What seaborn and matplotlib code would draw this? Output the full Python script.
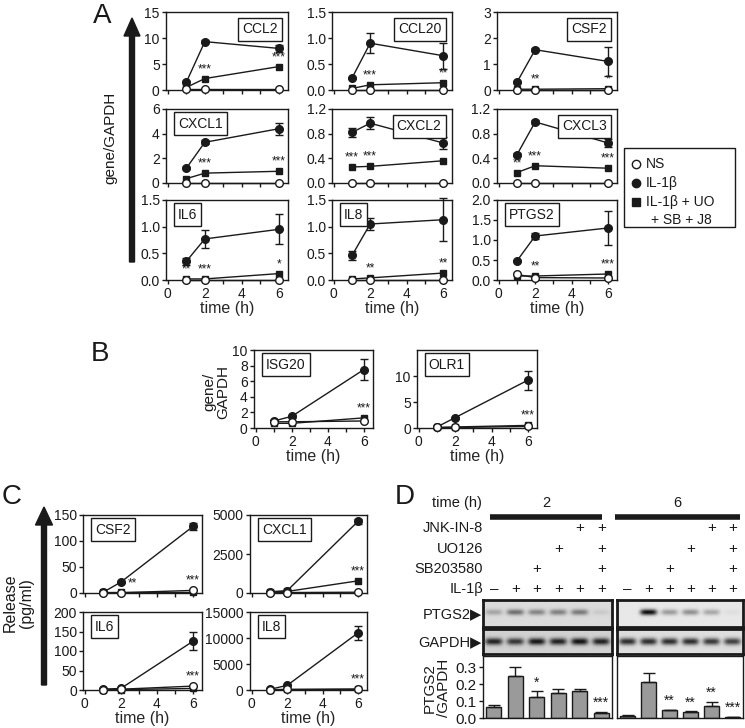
import numpy as np
import pandas as pd
import matplotlib
matplotlib.use("Agg")
import matplotlib.pyplot as plt
import seaborn as sns
from matplotlib.patches import FancyArrow, Rectangle

# ---------------------------------------------------------------- data
TIME = [1, 2, 6]
TIME_TICKS = ["0", "2", "4", "6"]

# Panel A : gene/GAPDH (NS, IL-1b mean, IL-1b error, IL-1b + UO + SB + J8, stars)
CCL2_NS = [0.1, 0.1, 0.1]; CCL2_IL1B = [1.5, 9.3, 8.0]; CCL2_ERR = [0.2, 0.3, 0.6]
CCL2_INH = [0.5, 2.2, 4.5]; CCL2_STARS = ["", "***", "***"]; CCL2_YT = ["0", "5", "10", "15"]

CCL20_NS = [0.0, 0.0, 0.0]; CCL20_IL1B = [0.23, 0.9, 0.66]; CCL20_ERR = [0.02, 0.19, 0.25]
CCL20_INH = [0.03, 0.1, 0.14]; CCL20_STARS = ["", "***", "**"]; CCL20_YT = ["0.0", "0.5", "1.0", "1.5"]

CSF2_NS = [0.0, 0.0, 0.0]; CSF2_IL1B = [0.3, 1.55, 1.1]; CSF2_ERR = [0.03, 0.05, 0.55]
CSF2_INH = [0.03, 0.03, 0.05]; CSF2_STARS = ["", "**", "*"]; CSF2_YT = ["0", "1", "2", "3"]

CXCL1_NS = [0.0, 0.0, 0.0]; CXCL1_IL1B = [1.2, 3.3, 4.4]; CXCL1_ERR = [0.1, 0.15, 0.5]
CXCL1_INH = [0.35, 0.8, 0.95]; CXCL1_STARS = ["", "***", "***"]; CXCL1_YT = ["0", "2", "4", "6"]

CXCL2_NS = [0.0, 0.0, 0.0]; CXCL2_IL1B = [0.82, 0.97, 0.65]; CXCL2_ERR = [0.07, 0.1, 0.1]
CXCL2_INH = [0.26, 0.27, 0.36]; CXCL2_STARS = ["***", "***", ""]; CXCL2_YT = ["0.0", "0.4", "0.8", "1.2"]

CXCL3_NS = [0.0, 0.0, 0.0]; CXCL3_IL1B = [0.46, 0.99, 0.65]; CXCL3_ERR = [0.02, 0.03, 0.07]
CXCL3_INH = [0.17, 0.28, 0.24]; CXCL3_STARS = ["**", "***", "***"]; CXCL3_YT = ["0.0", "0.4", "0.8", "1.2"]

IL6_NS = [0.0, 0.0, 0.0]; IL6_IL1B = [0.35, 0.77, 0.95]; IL6_ERR = [0.06, 0.17, 0.28]
IL6_INH = [0.02, 0.02, 0.12]; IL6_STARS = ["**", "***", "*"]; IL6_YT = ["0.0", "0.5", "1.0", "1.5"]

IL8_NS = [0.0, 0.0, 0.0]; IL8_IL1B = [0.46, 1.05, 1.13]; IL8_ERR = [0.09, 0.12, 0.4]
IL8_INH = [0.02, 0.04, 0.13]; IL8_STARS = ["", "**", "**"]; IL8_YT = ["0.0", "0.5", "1.0", "1.5"]

PTGS2_NS = [0.14, 0.06, 0.05]; PTGS2_IL1B = [0.48, 1.1, 1.3]; PTGS2_ERR = [0.03, 0.08, 0.42]
PTGS2_INH = [0.1, 0.1, 0.15]; PTGS2_STARS = ["", "**", "***"]; PTGS2_YT = ["0.0", "0.5", "1.0", "1.5", "2.0"]

# Panel B : gene/GAPDH
ISG20_NS = [0.8, 0.8, 0.9]; ISG20_IL1B = [0.9, 1.5, 7.5]; ISG20_ERR = [0.1, 0.2, 1.4]
ISG20_INH = [0.6, 0.6, 1.3]; ISG20_STARS = ["", "", "***"]; ISG20_YT = ["0", "2", "4", "6", "8", "10"]

OLR1_NS = [0.1, 0.1, 0.3]; OLR1_IL1B = [0.2, 2.0, 9.2]; OLR1_ERR = [0.05, 0.2, 1.8]
OLR1_INH = [0.1, 0.2, 0.5]; OLR1_STARS = ["", "", "***"]; OLR1_YT = ["0", "5", "10"]

# Panel C : release (pg/ml)
CSF2R_NS = [0.5, 0.5, 5]; CSF2R_IL1B = [1, 21, 128]; CSF2R_ERR = [0.5, 1.5, 6]
CSF2R_INH = [1, 1, 1]; CSF2R_STARS = ["", "**", "***"]; CSF2R_YT = ["0", "50", "100", "150"]
CSF2R_STAR_T = [1, 2.65, 6]

CXCL1R_NS = [30, 30, 50]; CXCL1R_IL1B = [80, 150, 4600]; CXCL1R_ERR = [20, 30, 150]
CXCL1R_INH = [60, 100, 780]; CXCL1R_STARS = ["", "", "***"]; CXCL1R_YT = ["0", "2500", "5000"]

IL6R_NS = [1, 2, 10]; IL6R_IL1B = [2, 4, 125]; IL6R_ERR = [0.5, 1, 23]
IL6R_INH = [1, 1, 4]; IL6R_STARS = ["", "", "***"]; IL6R_YT = ["0", "50", "100", "150", "200"]

IL8R_NS = [50, 100, 100]; IL8R_IL1B = [100, 900, 11000]; IL8R_ERR = [20, 100, 1300]
IL8R_INH = [50, 100, 200]; IL8R_STARS = ["", "", "***"]; IL8R_YT = ["0", "5000", "10000", "15000"]

# Panel D : western blot
D_TIMES = ["2", "6"]
D_ROW_LABELS = ["JNK-IN-8", "UO126", "SB203580", "IL-1β"]
JNK_ROW = ["", "", "", "", "+", "+"]
UO_ROW = ["", "", "", "+", "", "+"]
SB_ROW = ["", "", "+", "", "", "+"]
IL1B_ROW = ["–", "+", "+", "+", "+", "+"]
PTGS2_BAND_2H = [0.25, 0.5, 0.4, 0.42, 0.45, 0.08]
PTGS2_BAND_6H = [0.0, 0.95, 0.33, 0.38, 0.28, 0.04]
GAPDH_BAND_2H = [0.85, 0.75, 0.9, 0.85, 0.92, 0.85]
GAPDH_BAND_6H = [0.8, 0.8, 0.8, 0.8, 0.75, 0.72]
RATIO_2H = [0.065, 0.245, 0.125, 0.148, 0.158, 0.03]
RATIO_2H_ERR = [0.012, 0.055, 0.035, 0.025, 0.01, 0.008]
RATIO_2H_STARS = ["", "", "*", "", "", "***"]
RATIO_6H = [0.012, 0.212, 0.045, 0.035, 0.072, 0.006]
RATIO_6H_ERR = [0.003, 0.055, 0.005, 0.005, 0.025, 0.002]
RATIO_6H_STARS = ["", "", "**", "**", "**", "***"]
RATIO_YT = ["0.0", "0.1", "0.2", "0.3"]

# ---------------------------------------------------------------- style
sns.set_theme(style="ticks")
plt.rcParams["font.family"] = ["Liberation Sans", "DejaVu Sans"]
plt.rcParams["axes.linewidth"] = 1.0
plt.rcParams["xtick.major.width"] = 1.0
plt.rcParams["ytick.major.width"] = 1.0
plt.rcParams["xtick.minor.width"] = 1.0
plt.rcParams["xtick.major.size"] = 3
plt.rcParams["ytick.major.size"] = 3
plt.rcParams["xtick.minor.size"] = 3
plt.rcParams["xtick.major.pad"] = 2
plt.rcParams["ytick.major.pad"] = 1.5
plt.rcParams["xtick.labelsize"] = 10
plt.rcParams["ytick.labelsize"] = 10
plt.rcParams["xtick.color"] = "k"
plt.rcParams["ytick.color"] = "k"
plt.rcParams["axes.edgecolor"] = "k"
plt.rcParams["text.color"] = "k"

W, H = 745, 728
fig = plt.figure(figsize=(W / 100, H / 100), dpi=100)

# overlay in pixel coordinates for annotations
ov = fig.add_axes([0, 0, 1, 1])
ov.set_xlim(0, W)
ov.set_ylim(H, 0)
ov.axis("off")


def px_axes(l, t, r, b):
    return fig.add_axes([l / W, 1 - b / H, (r - l) / W, (b - t) / H])


def time_panel(box, name, ns, il1b, err, inh, stars, yt, loc, bottom, ymax=None, star_t=None):
    ax = px_axes(*box)
    sns.lineplot(x=TIME, y=inh, ax=ax, color="k", linewidth=1, marker="s", markersize=5,
                 markerfacecolor="k", markeredgecolor="k", markeredgewidth=1,
                 clip_on=False, zorder=3, legend=False)
    sns.lineplot(x=TIME, y=il1b, ax=ax, color="k", linewidth=1, marker="o", markersize=5.5,
                 markerfacecolor="k", markeredgecolor="k", markeredgewidth=1,
                 clip_on=False, zorder=4, legend=False)
    sns.lineplot(x=TIME, y=ns, ax=ax, color="k", linewidth=1, marker="o", markersize=5.5,
                 markerfacecolor="white", markeredgecolor="k", markeredgewidth=1,
                 clip_on=False, zorder=5, legend=False)
    ax.errorbar(TIME, il1b, yerr=err, fmt="none", ecolor="k", elinewidth=1, capsize=3,
                capthick=1, zorder=4, clip_on=False)
    st = star_t if star_t is not None else TIME
    for t, v, n, s in zip(st, inh, ns, stars):
        if s:
            ax.annotate(s, (t, max(v, n)), xytext=(0, 2.5), textcoords="offset points",
                        ha="center", va="bottom", fontsize=8.5)
    yticks = [float(s) for s in yt]
    ax.set_ylim(0, ymax if ymax is not None else yticks[-1])
    ax.set_xlim(-0.1, 6.5)
    ax.set_yticks(yticks)
    ax.set_yticklabels(yt)
    ax.set_xticks([float(s) for s in TIME_TICKS])
    ax.set_xticks([1, 3, 5], minor=True)
    if bottom:
        ax.set_xticklabels(TIME_TICKS)
        ax.set_xlabel("time (h)", fontsize=11.5, labelpad=0)
    else:
        ax.set_xticklabels([])
        ax.set_xlabel("")
    ax.set_ylabel("")
    for sp in ax.spines.values():
        sp.set_visible(True)
        sp.set_linewidth(1)
    bb = dict(boxstyle="square,pad=0.3", fc="white", ec="k", lw=1)
    if loc == "left":
        ax.annotate(name, (0, 1), xycoords="axes fraction", xytext=(8.5, -5.5),
                    textcoords="offset points", ha="left", va="top", fontsize=10,
                    bbox=bb, zorder=10)
    else:
        ax.annotate(name, (1, 1), xycoords="axes fraction", xytext=(-7.5, -7.5),
                    textcoords="offset points", ha="right", va="top", fontsize=10,
                    bbox=bb, zorder=10)
    return ax


# ---------------------------------------------------------------- panel A
C1, C2, C3 = (166, 288), (332, 452), (497, 617)
R1, R2, R3 = (12, 90), (109, 183), (200, 280)
A_SPECS = [
    ("CCL2", CCL2_NS, CCL2_IL1B, CCL2_ERR, CCL2_INH, CCL2_STARS, CCL2_YT, "right", C1, R1, False),
    ("CCL20", CCL20_NS, CCL20_IL1B, CCL20_ERR, CCL20_INH, CCL20_STARS, CCL20_YT, "right", C2, R1, False),
    ("CSF2", CSF2_NS, CSF2_IL1B, CSF2_ERR, CSF2_INH, CSF2_STARS, CSF2_YT, "right", C3, R1, False),
    ("CXCL1", CXCL1_NS, CXCL1_IL1B, CXCL1_ERR, CXCL1_INH, CXCL1_STARS, CXCL1_YT, "left", C1, R2, False),
    ("CXCL2", CXCL2_NS, CXCL2_IL1B, CXCL2_ERR, CXCL2_INH, CXCL2_STARS, CXCL2_YT, "right", C2, R2, False),
    ("CXCL3", CXCL3_NS, CXCL3_IL1B, CXCL3_ERR, CXCL3_INH, CXCL3_STARS, CXCL3_YT, "right", C3, R2, False),
    ("IL6", IL6_NS, IL6_IL1B, IL6_ERR, IL6_INH, IL6_STARS, IL6_YT, "left", C1, R3, True),
    ("IL8", IL8_NS, IL8_IL1B, IL8_ERR, IL8_INH, IL8_STARS, IL8_YT, "left", C2, R3, True),
    ("PTGS2", PTGS2_NS, PTGS2_IL1B, PTGS2_ERR, PTGS2_INH, PTGS2_STARS, PTGS2_YT, "left", C3, R3, True),
]
for name, ns, il, er, inh, stars, yt, loc, col, row, bottom in A_SPECS:
    time_panel((col[0], row[0], col[1], row[1]), name, ns, il, er, inh, stars, yt, loc, bottom)

ov.text(102, 16, "A", fontsize=20, ha="center", va="center")
ov.add_patch(FancyArrow(132, 262, 0, -244, width=5, head_width=16, head_length=18,
                        length_includes_head=True, color="k"))
ov.text(110, 138, "gene/GAPDH", rotation=90, fontsize=11, ha="center", va="center")

# legend
ov.add_patch(Rectangle((624, 148), 111, 79, fill=False, ec="k", lw=1))
ov.plot([636], [164], "o", ms=6, mfc="white", mec="k", mew=1)
ov.plot([636], [183], "o", ms=6, mfc="k", mec="k")
ov.plot([636], [202], "s", ms=5.5, mfc="k", mec="k")
ov.text(646, 164, "NS", fontsize=10, va="center")
ov.text(646, 183, "IL-1β", fontsize=10, va="center")
ov.text(646, 202, "IL-1β + UO", fontsize=10, va="center")
ov.text(651, 220, "+ SB + J8", fontsize=10, va="center")

# ---------------------------------------------------------------- panel B
time_panel((254, 350, 373, 428), "ISG20", ISG20_NS, ISG20_IL1B, ISG20_ERR, ISG20_INH,
           ISG20_STARS, ISG20_YT, "left", True)
time_panel((417, 350, 537, 428), "OLR1", OLR1_NS, OLR1_IL1B, OLR1_ERR, OLR1_INH,
           OLR1_STARS, OLR1_YT, "left", True, ymax=15)
ov.text(100, 354, "B", fontsize=20, ha="center", va="center")
ov.text(216, 392, "gene/\nGAPDH", rotation=90, fontsize=11, ha="center", va="center",
        linespacing=1.0)

# ---------------------------------------------------------------- panel C
time_panel((83, 515, 202, 593), "CSF2", CSF2R_NS, CSF2R_IL1B, CSF2R_ERR, CSF2R_INH,
           CSF2R_STARS, CSF2R_YT, "left", False, star_t=CSF2R_STAR_T)
time_panel((250, 515, 367, 593), "CXCL1", CXCL1R_NS, CXCL1R_IL1B, CXCL1R_ERR, CXCL1R_INH,
           CXCL1R_STARS, CXCL1R_YT, "left", False)
time_panel((83, 612, 202, 690), "IL6", IL6R_NS, IL6R_IL1B, IL6R_ERR, IL6R_INH,
           IL6R_STARS, IL6R_YT, "left", True)
time_panel((250, 612, 367, 690), "IL8", IL8R_NS, IL8R_IL1B, IL8R_ERR, IL8R_INH,
           IL8R_STARS, IL8R_YT, "left", True)
ov.text(12, 497, "C", fontsize=20, ha="center", va="center")
ov.add_patch(FancyArrow(44, 685, 0, -178, width=5, head_width=17, head_length=18,
                        length_includes_head=True, color="k"))
ov.text(18, 603, "Release\n(pg/ml)", rotation=90, fontsize=11.5, ha="center", va="center",
        linespacing=1.1)

# ---------------------------------------------------------------- panel D
ov.text(405, 497, "D", fontsize=20, ha="center", va="center")
ov.text(482, 503, "time (h)", fontsize=10.5, ha="right", va="center")
ov.plot([490, 602], [517, 517], color="k", lw=4, solid_capstyle="butt")
ov.plot([615, 740], [517, 517], color="k", lw=4, solid_capstyle="butt")
ov.text(546, 503, D_TIMES[0], fontsize=10.5, ha="center", va="center")
ov.text(677, 503, D_TIMES[1], fontsize=10.5, ha="center", va="center")
ROW_Y = [528, 549, 569, 589]
for lab, y in zip(D_ROW_LABELS, ROW_Y):
    ov.text(483, y, lab, fontsize=10.5, ha="right", va="center")
ov.text(482, 614, "PTGS2▶", fontsize=10.5, ha="right", va="center")
ov.text(482, 642, "GAPDH▶", fontsize=10.5, ha="right", va="center")
ov.text(437, 688, "PTGS2\n/GAPDH", rotation=90, fontsize=11, ha="center", va="center",
        linespacing=1.0)

GROUPS = [(483, 612), (617, 743)]
ROWS = [JNK_ROW, UO_ROW, SB_ROW, IL1B_ROW]


def blot(ax, bands, bg, yc, hw, sharp):
    xs = np.linspace(-0.5, 5.5, 300)
    ys = np.linspace(0, 1, 60)
    X, Y = np.meshgrid(xs, ys)
    dark = np.zeros_like(X)
    for i, b in enumerate(bands):
        dark += b * np.exp(-np.abs((X - i) / 0.4) ** sharp) * np.exp(-((Y - yc) / hw) ** 2)
    img = bg * (1 - np.clip(dark, 0, 0.95))
    ax.imshow(img, cmap="gray", vmin=0, vmax=1, aspect="auto", extent=(-0.5, 5.5, 1, 0),
              interpolation="bilinear")
    ax.set_xlim(-0.5, 5.5)
    ax.set_ylim(1, 0)
    ax.set_xticks([])
    ax.set_yticks([])
    for sp in ax.spines.values():
        sp.set_visible(True)
        sp.set_linewidth(2)


for gi, (l, r) in enumerate(GROUPS):
    hdr = px_axes(l, 520, r, 597)
    hdr.set_xlim(-0.5, 5.5)
    hdr.set_ylim(597, 520)
    hdr.axis("off")
    for row, y in zip(ROWS, ROW_Y):
        for i, s in enumerate(row):
            if s:
                hdr.text(i, y, s, fontsize=11, ha="center", va="center")

    ptgs = PTGS2_BAND_2H if gi == 0 else PTGS2_BAND_6H
    gapdh = GAPDH_BAND_2H if gi == 0 else GAPDH_BAND_6H
    blot(px_axes(l, 600, r, 627), ptgs, 0.86 if gi == 0 else 0.91, 0.45, 0.11, 4)
    blot(px_axes(l, 629, r, 654), gapdh, 0.82 if gi == 0 else 0.87, 0.5, 0.14, 4)

    vals = RATIO_2H if gi == 0 else RATIO_6H
    errs = RATIO_2H_ERR if gi == 0 else RATIO_6H_ERR
    stars = RATIO_2H_STARS if gi == 0 else RATIO_6H_STARS
    bx = px_axes(l, 656, r, 718)
    lanes = list(range(len(vals)))
    sns.barplot(x=lanes, y=vals, ax=bx, color="#9a9a9a", edgecolor="k", linewidth=1,
                width=0.68, errorbar=None, saturation=1)
    bx.errorbar(lanes, vals, yerr=[np.zeros(len(errs)), errs], fmt="none", ecolor="k",
                elinewidth=1, capsize=4, capthick=1)
    for i, (v, e, s) in enumerate(zip(vals, errs, stars)):
        if s:
            bx.annotate(s, (i, v + e), xytext=(0, 1), textcoords="offset points",
                        ha="center", va="bottom", fontsize=10)
    bx.set_xlim(-0.5, 5.5)
    bx.set_ylim(0, 0.365)
    bx.set_xticks([])
    bx.set_xlabel("")
    bx.set_ylabel("")
    if gi == 0:
        bx.set_yticks([float(s) for s in RATIO_YT])
        bx.set_yticklabels(RATIO_YT, fontsize=11)
    else:
        bx.set_yticks([])
    for sp in bx.spines.values():
        sp.set_visible(True)
        sp.set_linewidth(1)

fig.savefig("out.png", dpi=100)
